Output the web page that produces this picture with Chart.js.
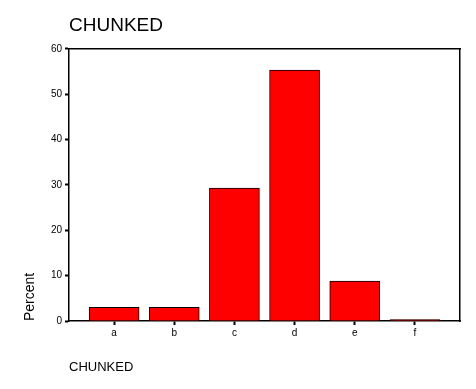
<!DOCTYPE html>
<html>
<head>
<meta charset="utf-8">
<script src="https://cdn.jsdelivr.net/npm/chart.js@4/dist/chart.umd.min.js"></script>
<style>
html,body{margin:0;padding:0;background:#fff;}
#wrap{width:476px;height:389px;}
</style>
</head>
<body>
<div id="wrap"><canvas id="c" width="476" height="389"></canvas></div>
<script>
const categories = ['a', 'b', 'c', 'd', 'e', 'f'];
const percentValues = [3.0, 3.0, 29.3, 55.3, 8.8, 0.3];
const yTickValues = [0, 10, 20, 30, 40, 50, 60];
const chartTitle = 'CHUNKED';
const xAxisTitle = 'CHUNKED';
const yAxisTitle = 'Percent';

const FONT = '"Liberation Sans", Arial, sans-serif';
const points = categories.map((c, i) => ({ x: i, y: percentValues[i] }));

new Chart(document.getElementById('c'), {
  type: 'bar',
  data: {
    datasets: [{
      data: points,
      backgroundColor: '#FF0000',
      borderColor: '#000000',
      borderWidth: 1,
      barThickness: 50,
      xAxisID: 'x',
      yAxisID: 'y'
    }]
  },
  options: {
    responsive: false,
    animation: false,
    devicePixelRatio: 1,
    layout: { padding: { left: 0, right: 16, top: 0, bottom: 0 } },
    plugins: {
      legend: { display: false },
      tooltip: { enabled: false },
      title: {
        display: true,
        text: chartTitle,
        align: 'start',
        fullSize: false,
        color: '#000',
        font: { family: FONT, size: 19, weight: 'normal', lineHeight: 1.2 },
        padding: { top: 14, bottom: 12 }
      }
    },
    scales: {
      x: {
        type: 'linear',
        position: 'bottom',
        offset: false,
        min: -0.75,
        max: 5.75,
        afterBuildTicks: (s) => { s.ticks = categories.map((c, i) => ({ value: i })); },
        afterFit: (s) => { s.height = 68; },
        ticks: {
          color: '#000',
          font: { family: FONT, size: 10 },
          padding: 2,
          maxRotation: 0,
          autoSkip: false,
          callback: (v) => categories[v]
        },
        grid: { offset: false, drawOnChartArea: false, drawTicks: true, tickLength: 4, color: '#000', tickWidth: 2 },
        border: { display: true, color: '#000', width: 1.5 },
        title: {
          display: true,
          text: xAxisTitle,
          align: 'start',
          color: '#000',
          font: { family: FONT, size: 13, lineHeight: 1.2 },
          padding: { top: 0, bottom: 14 }
        }
      },
      y: {
        type: 'linear',
        position: 'left',
        min: 0,
        max: 60,
        afterBuildTicks: (s) => { s.ticks = yTickValues.map(v => ({ value: v })); },
        afterFit: (s) => { s.width = 69; },
        ticks: {
          color: '#000',
          font: { family: FONT, size: 10 },
          padding: 3
        },
        grid: { drawOnChartArea: false, drawTicks: true, tickLength: 4, color: '#000', tickWidth: 2 },
        border: { display: true, color: '#000', width: 1.5 },
        title: {
          display: true,
          text: yAxisTitle,
          align: 'start',
          color: '#000',
          font: { family: FONT, size: 14, lineHeight: 1.2 },
          padding: { top: 22, bottom: 0 }
        }
      },
      xTop: {
        type: 'linear',
        position: 'top',
        afterFit: (s) => { s.height = 0; },
        ticks: { display: false },
        grid: { display: true, drawOnChartArea: false, drawTicks: false },
        border: { display: true, color: '#000', width: 1.5 }
      },
      yRight: {
        type: 'linear',
        position: 'right',
        afterFit: (s) => { s.width = 0; },
        ticks: { display: false },
        grid: { display: true, drawOnChartArea: false, drawTicks: false },
        border: { display: true, color: '#000', width: 1.5 }
      }
    }
  }
});
</script>
</body>
</html>
